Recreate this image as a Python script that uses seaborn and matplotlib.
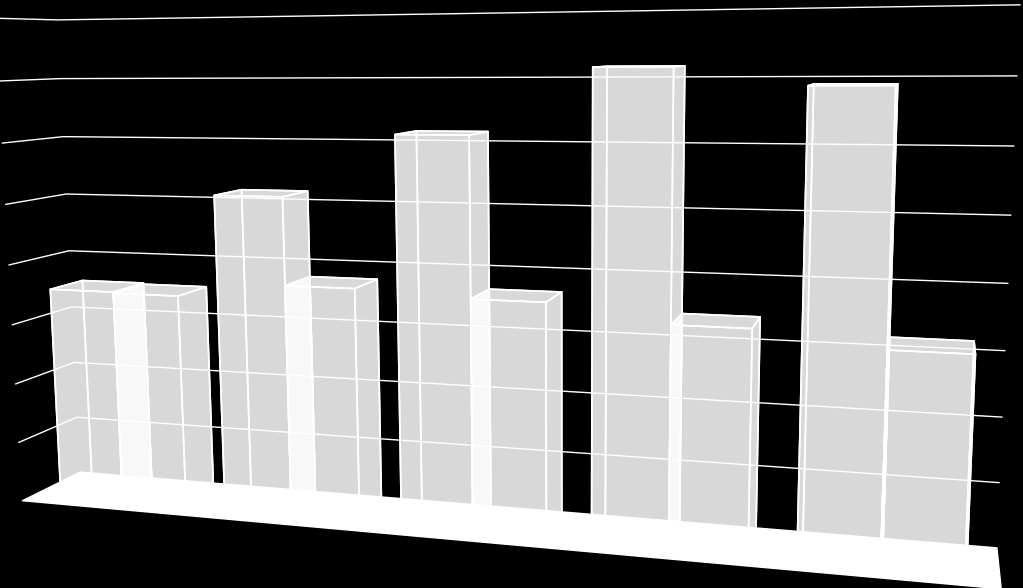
import numpy as np
import pandas as pd
import seaborn as sns
import matplotlib
matplotlib.use('Agg')
import matplotlib.pyplot as plt
from mpl_toolkits.mplot3d.art3d import Poly3DCollection

# values
categories = [0, 1, 2, 3, 4]
series_a = [3.55, 5.18, 6.17, 7.17, 6.9]
series_b = [3.53, 3.77, 3.68, 3.42, 3.2]
grid_levels = [1, 2, 3, 4, 5, 6, 7, 8]

sns.set_theme(style='dark', rc={'figure.facecolor': 'black', 'axes.facecolor': 'black'})

df = pd.DataFrame({'cat': categories, 'a': series_a, 'b': series_b})
long = df.melt(id_vars='cat', var_name='series', value_name='val')

bar_w = 1 / 2.6
bar_d = 0.55
x_off = {'a': -bar_w, 'b': 0}
x_lo, x_hi = -0.045, len(categories) + 0.03
long['x'] = long['cat'] + 0.5 + long['series'].map(x_off)

fig = plt.figure(figsize=(10.23, 5.88), dpi=100, facecolor='black')
ax = fig.add_axes([-0.093, -0.441, 1.092, 1.9], projection='3d', computed_zorder=False, facecolor='black')
ax.set_proj_type('persp', focal_length=0.25)
ax.view_init(elev=8.5, azim=-73, roll=0.5)
ax.set_xlim(x_lo, x_hi)
ax.set_ylim(0, 1)
ax.set_zlim(0, 8)
ax.set_box_aspect((15.59, 1.8, 8), zoom=0.987)
ax.set_axis_off()

# floor
floor = [[(x_lo, 0, 0), (x_hi, 0, 0), (x_hi, 1, 0), (x_lo, 1, 0)]]
ax.add_collection3d(Poly3DCollection(floor, facecolor='white', edgecolor='white', zorder=1))

# wall lines
for lv in grid_levels:
    ax.plot([x_lo, x_lo, x_hi], [0, 1, 1], [lv, lv, lv], color='white', lw=1, zorder=2)

ax.bar3d(long['x'], (1 - bar_d) / 2, 0, bar_w, bar_d, long['val'], color=(1, 1, 1, 0.615),
         edgecolor='white', linewidth=1.2, shade=False, zorder=3)

fig.savefig('out.png', dpi=100, facecolor='black')
